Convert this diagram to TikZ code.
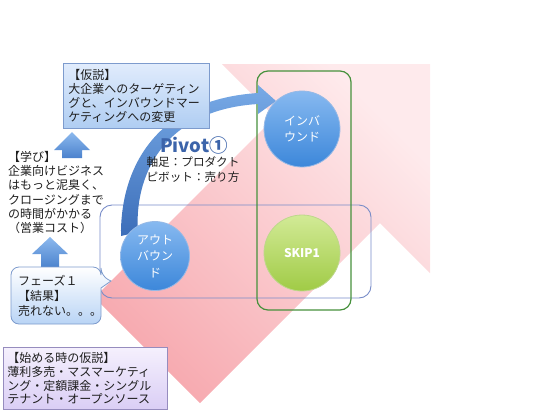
\documentclass[tikz,border=0pt]{standalone}
\usepackage{fontspec}
\setmainfont{Noto Sans CJK JP}
\usetikzlibrary{shadings}
\definecolor{pinkD}{RGB}{247,170,176}
\definecolor{pinkL}{RGB}{254,234,236}
\definecolor{rectblue}{RGB}{120,140,200}
\definecolor{rectgreen}{RGB}{70,145,60}
\definecolor{circBT}{RGB}{135,185,240}
\definecolor{circBB}{RGB}{60,135,218}
\definecolor{circBD}{RGB}{150,185,230}
\definecolor{circGT}{RGB}{210,234,150}
\definecolor{circGB}{RGB}{160,203,70}
\definecolor{circGD}{RGB}{190,215,140}
\definecolor{arrL}{RGB}{120,170,230}
\definecolor{arrD}{RGB}{60,110,185}
\definecolor{hypT}{RGB}{225,236,252}
\definecolor{hypB}{RGB}{175,205,242}
\definecolor{hypD}{RGB}{125,155,205}
\definecolor{upT}{RGB}{140,185,238}
\definecolor{upB}{RGB}{75,130,205}
\definecolor{bubB}{RGB}{185,212,245}
\definecolor{lavT}{RGB}{245,240,253}
\definecolor{lavB}{RGB}{218,206,245}
\definecolor{lavD}{RGB}{150,140,190}
\definecolor{pivblue}{RGB}{60,100,170}
\definecolor{txtc}{RGB}{30,30,30}
\tikzset{
  jtxt/.style={font=\fontsize{12}{14.3}\selectfont, align=left, inner sep=0pt, text=txtc},
  circtxt/.style={circle, font=\fontsize{12}{16.5}\selectfont, align=center, text=white, line width=0.8pt},
  bluecirc/.style={circtxt, top color=circBT, bottom color=circBB, draw=circBD},
  greencirc/.style={circtxt, top color=circGT, bottom color=circGB, draw=circGD}
}
\begin{document}
\begin{tikzpicture}[x=1pt,y=-1pt]
\useasboundingbox (0,0) rectangle (549,413);
% big pink arrow
\shade[top color=pinkL, bottom color=pinkD, shading angle=-45]
  (222,64) -- (430,64) -- (430,273) -- (380,223) -- (200,403) -- (94.5,297.5) -- (275,117) -- cycle;
% rectangles
\draw[rectblue, line width=0.9pt, rounded corners=12] (100,205) rectangle (371,298);
\draw[rectgreen, line width=1.2pt, rounded corners=11] (257,71) rectangle (351,310);
% curved arrow
\shade[top color=arrL, bottom color=arrD]
  (121,236) .. controls (120,175) and (150,100) .. (258,93) -- (258,85) -- (276,101) -- (258,114) -- (258,104)
  .. controls (160,110) and (134,180) .. (138,232) -- cycle;
% circles
\node[bluecirc, minimum size=76pt] (inb) at (302,129) {インバ\\ウンド};
\node[greencirc, minimum size=76pt, font=\fontsize{12}{14}\selectfont\bfseries] (skip) at (302,253) {SKIP1};
\node[bluecirc, minimum size=69pt] (outb) at (155,256) {アウト\\バウン\\ド};
% hypothesis box
\node[jtxt, anchor=north west, text width=136pt, inner xsep=5pt, minimum height=65pt,
      top color=hypT, bottom color=hypB, draw=hypD, line width=0.8pt] (hyp) at (63,63)
  {【仮説】\\大企業へのターゲティン\\グと、インバウンドマー\\ケティングへの変更};
% up arrows
\shade[top color=upT, bottom color=upB] (72,132) -- (90,150) -- (82,150) -- (82,158) -- (62,158) -- (62,150) -- (54,150) -- cycle;
\shade[top color=upT, bottom color=upB] (50,237) -- (68,254) -- (59,254) -- (59,268) -- (41,268) -- (41,254) -- (32,254) -- cycle;
% learning text
\node[jtxt, anchor=north west] (learn) at (8,151)
  {【学び】\\企業向けビジネス\\はもっと泥臭く、\\クロージングまで\\の時間がかかる\\（営業コスト）};
% phase bubble
\shade[top color=white, bottom color=bubB, draw=hypD, line width=0.8pt, rounded corners=8]
  (11,267) -- (101,267) -- (101,276) [sharp corners] -- (111,281) -- (101,288) [rounded corners=8] -- (101,324) -- (11,324) -- cycle;
\node[jtxt, anchor=north west, font=\fontsize{12}{15}\selectfont] (phase) at (18,275)
  {フェーズ１\\【結果】\\売れない。。。};
% bottom box
\node[jtxt, anchor=north west, text width=156pt, inner xsep=4pt, minimum height=62pt,
      font=\fontsize{12}{13.8}\selectfont,
      top color=lavT, bottom color=lavB, draw=lavD, line width=0.8pt] (start) at (3,347)
  {【始める時の仮説】\\薄利多売・マスマーケティ\\ング・定額課金・シングル\\テナント・オープンソース};
% pivot labels
\node[font=\fontsize{18.5}{20}\selectfont\bfseries, text=pivblue, inner sep=0pt] (piv) at (194,145) {Pivot①};
\node[jtxt, align=center, font=\fontsize{11.6}{15}\selectfont] (pivsub) at (193,170) {軸足：プロダクト\\ピボット：売り方};
\end{tikzpicture}
\end{document}
